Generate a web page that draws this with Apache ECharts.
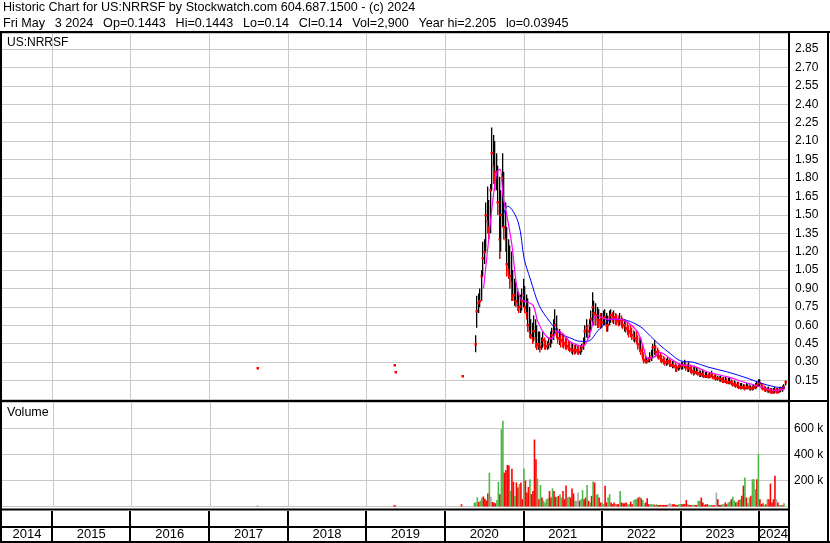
<!DOCTYPE html>
<html><head><meta charset="utf-8">
<script src="https://cdn.jsdelivr.net/npm/echarts@6/dist/echarts.min.js"></script>
<style>html,body{margin:0;padding:0;background:#fff}#c{width:830px;height:543px}</style>
</head><body><div id="c"></div>
<script>
// ---------------- DATA ----------------
const headerLine1 = 'Historic Chart for US:NRRSF by Stockwatch.com 604.687.1500 - (c) 2024';
const headerLine2 = 'Fri May  3 2024  Op=0.1443  Hi=0.1443  Lo=0.14  Cl=0.14  Vol=2,900  Year hi=2.205  lo=0.03945';
const symbolLabel = 'US:NRRSF';
const volumeLabel = 'Volume';
const years = [2014,2015,2016,2017,2018,2019,2020,2021,2022,2023,2024];
const axisStart = '2014-05-14';
const axisEnd = '2024-05-14';
const priceTicks = {min: 0, max: 2.98, step: 0.15};
const volTicks = {min: 0, max: 800000, step: 200000};

// isolated early trades
const earlyDates = ['2017-08-12','2019-05-10','2019-05-16','2020-03-19'];
const earlyClose = [0.25, 0.28, 0.22, 0.19];
const earlyVol = [8, 10, 9, 18]; // thousands
const earlyDir = 'uddd';

// weekly bars starting at this Monday
const firstWeek = '2020-05-18';
const highs = [
 .52,.84,.86,.9,1.05,1.28,1.3,1.6,1.73,1.62,
 1.75,2.21,2.15,2.1,2.0,1.9,1.81,1.7,2.0,1.85,
 1.6,1.4,1.3,1.25,1.2,1.05,.98,.95,.9,.87,
 .85,.9,.98,.92,.85,.82,.75,.65,.62,.68,
 .65,.6,.55,.55,.5,.55,.5,.48,.47,.5,
 .55,.58,.65,.73,.68,.58,.57,.55,.53,.52,
 .5,.5,.48,.47,.46,.45,.44,.45,.44,.43,
 .44,.45,.5,.6,.65,.6,.65,.72,.87,.8,
 .78,.75,.73,.7,.7,.72,.73,.7,.68,.72,
 .73,.71,.72,.7,.69,.68,.7,.68,.66,.65,
 .64,.62,.6,.6,.58,.56,.55,.56,.52,.5,
 .5,.45,.38,.35,.34,.34,.38,.4,.45,.48,
 .44,.42,.4,.38,.36,.35,.34,.33,.34,.33,
 .32,.31,.31,.3,.28,.28,.29,.3,.3,.32,
 .3,.29,.3,.28,.27,.26,.27,.26,.25,.24,
 .23,.24,.23,.22,.22,.21,.22,.23,.21,.2,
 .2,.19,.19,.19,.18,.18,.18,.17,.17,.17,
 .16,.15,.15,.14,.14,.14,.13,.13,.12,.12,
 .13,.12,.12,.11,.11,.12,.13,.14,.16,.16,
 .13,.12,.11,.1,.1,.1,.09,.09,.09,.1,
 .09,.09,.1,.1,.11,.12,.15
];
const lows = [
 .38,.58,.7,.75,.8,1.0,1.1,1.2,1.35,1.3,
 1.35,1.7,1.75,1.7,1.7,1.5,1.14,1.2,1.4,1.3,
 1.2,1.0,.98,.9,.8,.8,.76,.75,.72,.7,
 .7,.72,.75,.7,.65,.55,.5,.49,.45,.47,
 .42,.4,.4,.38,.4,.42,.4,.4,.4,.41,
 .42,.45,.48,.52,.5,.45,.44,.42,.42,.41,
 .4,.4,.39,.38,.37,.36,.36,.37,.36,.36,
 .36,.38,.4,.45,.5,.48,.5,.55,.6,.6,
 .6,.58,.58,.57,.58,.6,.6,.55,.55,.6,
 .62,.62,.61,.6,.6,.59,.6,.58,.57,.55,
 .54,.52,.5,.5,.48,.47,.46,.45,.4,.38,
 .36,.32,.29,.29,.29,.3,.3,.31,.33,.36,
 .34,.33,.32,.3,.29,.28,.27,.27,.28,.26,
 .26,.25,.25,.22,.22,.23,.24,.24,.24,.25,
 .23,.22,.22,.21,.2,.19,.2,.2,.19,.18,
 .18,.18,.17,.17,.17,.17,.17,.18,.16,.16,
 .15,.15,.14,.14,.13,.13,.13,.12,.12,.12,
 .11,.1,.1,.09,.09,.08,.08,.08,.08,.07,
 .08,.08,.07,.07,.07,.08,.08,.09,.1,.1,
 .08,.07,.06,.06,.05,.05,.05,.045,.045,.05,
 .05,.05,.05,.06,.06,.08,.11
];
const closes = [
 .45,.72,.78,.8,1.0,1.15,1.2,1.5,1.45,1.4,
 1.7,2.0,1.9,1.85,1.85,1.6,1.3,1.5,1.8,1.4,
 1.3,1.1,1.05,1.0,.95,.85,.85,.8,.78,.75,
 .76,.8,.85,.75,.7,.6,.55,.52,.5,.55,
 .5,.45,.45,.42,.45,.48,.44,.43,.43,.45,
 .5,.52,.55,.6,.55,.5,.5,.48,.47,.46,
 .44,.43,.42,.41,.4,.4,.39,.4,.39,.38,
 .4,.42,.45,.55,.58,.55,.6,.65,.75,.7,
 .68,.65,.64,.62,.63,.66,.67,.6,.6,.67,
 .68,.66,.67,.65,.64,.63,.64,.62,.6,.6,
 .58,.56,.55,.54,.52,.5,.5,.48,.45,.42,
 .4,.35,.32,.31,.31,.32,.33,.35,.42,.42,
 .38,.36,.35,.33,.32,.31,.3,.3,.31,.29,
 .28,.28,.27,.26,.25,.26,.27,.27,.28,.28,
 .26,.25,.25,.24,.23,.22,.22,.22,.21,.2,
 .2,.2,.19,.19,.19,.18,.19,.2,.18,.17,
 .17,.17,.16,.16,.15,.15,.15,.14,.14,.14,
 .13,.12,.12,.11,.11,.1,.1,.1,.1,.09,
 .1,.1,.09,.09,.09,.1,.1,.11,.13,.13,
 .1,.09,.08,.08,.07,.07,.06,.06,.06,.07,
 .06,.06,.07,.08,.09,.1,.14
];
// weekly volume, thousands of shares
const vols = [
 30,30,70,35,45,70,77,60,45,100,
 260,75,35,30,25,50,190,95,595,659,
 260,280,320,315,120,290,190,82,185,146,
 172,185,56,292,200,108,150,210,95,120,
 515,364,215,56,166,69,44,31,56,64,
 120,69,140,120,75,75,82,95,69,120,
 56,161,69,75,69,138,100,44,44,108,
 44,56,126,56,69,166,44,31,82,192,
 185,90,95,69,31,31,18,159,31,69,
 95,31,18,31,18,18,18,120,31,25,
 25,31,18,18,38,18,50,56,56,69,
 75,64,50,25,31,64,18,18,18,18,
 12,18,12,12,12,12,12,12,12,18,
 25,18,18,18,12,12,18,18,18,18,
 18,50,18,12,12,12,12,12,12,44,
 44,69,31,12,18,18,12,12,10,10,
 10,107,56,12,12,18,18,31,18,31,
 38,56,75,44,31,38,50,56,82,161,
 223,69,25,69,82,210,210,133,210,403,
 56,18,25,12,18,56,56,176,31,56,
 236,56,31,12,12,10,25
];
// u = up (green), d = down (red), n = unchanged (grey)
const volDir =
 'uuuduudddd' + 'unddduuduu' + 'dddduddudd' + 'uddudddudd' + 'ddududuuuu' +
 'ddudduduud' + 'dduudddunn' + 'duuddududu' + 'duudduuddu' + 'uddduddudd' +
 'dduuddnuud' + 'udunddduuu' + 'dudddddddn' + 'nndddduudd' + 'ddudduuddu' +
 'uddddduudd' + 'dnddduuddu' + 'uduudududd' + 'uduuduuudu' + 'dddududddd' +
 'dnduudu';

// moving averages (sampled at week indices)
const maShortWeeks = [6,9,12,15,17,19,22,25,28,31,35,39,42,47,51,55,59,63,72,77,81,88,95,101,108,112,115,119,123,130,137,145,155,168,181,190,199,206];
const maShort = [0.9,1.25,1.6,1.85,1.87,1.65,1.46,1.24,0.92,0.81,0.79,0.76,0.63,0.52,0.49,0.55,0.53,0.47,0.43,0.55,0.68,0.65,0.65,0.63,0.55,0.43,0.33,0.34,0.38,0.33,0.28,0.27,0.22,0.18,0.13,0.10,0.07,0.08];
const maLongWeeks = [19,22,29,33,37,43,50,57,63,70,75,83,92,101,110,117,123,130,137,145,155,168,181,190,199,206];
const maLong = [1.49,1.57,1.44,1.14,0.98,0.76,0.63,0.53,0.5,0.47,0.47,0.57,0.65,0.64,0.59,0.51,0.44,0.37,0.31,0.30,0.26,0.22,0.17,0.13,0.10,0.09];

// ---------------- BUILD ----------------
const FONT = 'Arial, "Liberation Sans", sans-serif';
const DAY = 86400000;
const utc = s => Date.parse(s + 'T00:00:00Z');
const t0 = utc(firstWeek);
const weekTime = i => t0 + i * 7 * DAY;
const xMin = utc(axisStart), xMax = utc(axisEnd);
const dirColor = {u: '#4cb848', d: '#ff0000', n: '#a8a8a8'};

// [time, high, low, close, down(1/0)]
const priceData = highs.map((h, i) => [weekTime(i), h, lows[i], closes[i], (i > 0 && closes[i] < closes[i - 1]) ? 1 : 0]);
earlyDates.forEach((d, i) => priceData.push([utc(d), earlyClose[i], earlyClose[i], earlyClose[i], 1]));

const volData = vols.map((v, i) => ({value: [weekTime(i), v * 1000], itemStyle: {color: dirColor[volDir[i]]}}));
earlyDates.forEach((d, i) => volData.push({value: [utc(d), earlyVol[i] * 1000], itemStyle: {color: dirColor[earlyDir[i]]}}));

const shortData = maShortWeeks.map((w, i) => [weekTime(w), maShort[i]]);
const longData = maLongWeeks.map((w, i) => [weekTime(w), maLong[i]]);

const yearStarts = years.slice(1).map(y => [Date.UTC(y, 0, 1), 0]);
const yearMids = years.map(y => {
  const a = Math.max(Date.UTC(y, 0, 1), xMin), b = Math.min(Date.UTC(y + 1, 0, 1), xMax);
  return [(a + b) / 2, 0.22, y];
});

function vline(color, width) {
  return function (params, api) {
    const cs = params.coordSys;
    let x = api.coord([api.value(0), 0])[0];
    x = width % 2 ? Math.round(x) + 0.5 : Math.round(x);
    return {type: 'line', silent: true,
      shape: {x1: x, y1: cs.y, x2: x, y2: cs.y + cs.height},
      style: {stroke: color, lineWidth: width}};
  };
}

// header second line: the source renders its double gaps wider
const wide = s => s.replace(/  /g, ' \u2002');

const chart = echarts.init(document.getElementById('c'), null, {renderer: 'canvas'});
const blk = '#000';
const rect = (x, y, w, h) => ({type: 'rect', z: 100, silent: true, shape: {x, y, width: w, height: h}, style: {fill: blk}});
const txt = (x, y, s, size) => ({type: 'text', z: 101, silent: true, x, y,
  style: {text: s, font: size + 'px ' + FONT, fill: '#000', verticalAlign: 'middle', align: 'left'}});

chart.setOption({
  animation: false,
  backgroundColor: '#fff',
  grid: [
    {left: 2, top: 33, width: 786, height: 366},
    {left: 2, top: 402.5, width: 786, height: 104},
    {left: 2, top: 511, width: 786, height: 30}
  ],
  xAxis: [0, 1, 2].map(g => ({type: 'time', gridIndex: g, min: xMin, max: xMax, show: false})),
  yAxis: [
    {type: 'value', gridIndex: 0, position: 'right', min: priceTicks.min, max: priceTicks.max, interval: priceTicks.step,
     axisLine: {show: false}, axisTick: {show: false},
     axisLabel: {showMinLabel: false, showMaxLabel: false, margin: 7, color: '#000', fontSize: 12, fontFamily: FONT,
       formatter: v => v.toFixed(2)},
     splitLine: {show: true, lineStyle: {color: '#c8c8c8', width: 1}}},
    {type: 'value', gridIndex: 1, position: 'right', min: volTicks.min, max: volTicks.max, interval: volTicks.step,
     axisLine: {show: false}, axisTick: {show: false},
     axisLabel: {showMinLabel: false, showMaxLabel: false, margin: 6, color: '#000', fontSize: 12, fontFamily: FONT,
       formatter: v => (v / 1000) + ' k'},
     splitLine: {show: true, lineStyle: {color: '#c8c8c8', width: 1}}},
    {type: 'value', gridIndex: 2, min: 0, max: 1, show: false}
  ],
  series: [
    {type: 'custom', xAxisIndex: 0, yAxisIndex: 0, z: 1, silent: true, data: yearStarts, renderItem: vline('#c8c8c8', 1)},
    {type: 'custom', xAxisIndex: 1, yAxisIndex: 1, z: 1, silent: true, data: yearStarts, renderItem: vline('#c8c8c8', 1)},
    {type: 'custom', xAxisIndex: 2, yAxisIndex: 2, z: 1, silent: true, data: yearStarts, renderItem: vline('#000', 2)},
    {type: 'custom', name: 'price', xAxisIndex: 0, yAxisIndex: 0, z: 2, silent: true, data: priceData,
     renderItem: function (params, api) {
       const t = api.value(0);
       const hi = api.coord([t, api.value(1)]);
       const lo = api.coord([t, api.value(2)]);
       const cl = api.coord([t, api.value(3)]);
       const down = api.value(4) === 1;
       const x = Math.round(hi[0]);
       const h = lo[1] - hi[1];
       const kids = [];
       if (h > 0.5) {
         const fullRed = down && h < 16;
         kids.push({type: 'rect', shape: {x: x, y: hi[1], width: 1.3, height: h}, style: {fill: fullRed ? '#ff0000' : '#000'}});
         if (down && !fullRed) {
           kids.push({type: 'rect', shape: {x: x, y: cl[1], width: 1.3, height: Math.max(1, lo[1] - cl[1])}, style: {fill: '#ff0000'}});
         }
       }
       kids.push({type: 'rect', shape: {x: x - 0.5, y: Math.round(cl[1]) - 1, width: 2.5, height: 2.5}, style: {fill: '#ff0000'}});
       return {type: 'group', children: kids};
     }},
    {type: 'line', name: 'MA long', xAxisIndex: 0, yAxisIndex: 0, z: 3, data: longData, showSymbol: false, smooth: 0.35,
     lineStyle: {color: '#0000ff', width: 1}, silent: true},
    {type: 'line', name: 'MA short', xAxisIndex: 0, yAxisIndex: 0, z: 4, data: shortData, showSymbol: false, smooth: 0.35,
     lineStyle: {color: '#ff00ff', width: 1.2}, silent: true},
    {type: 'bar', name: 'Volume', xAxisIndex: 1, yAxisIndex: 1, z: 2, data: volData, barWidth: 1.6, silent: true},
    {type: 'custom', xAxisIndex: 2, yAxisIndex: 2, z: 3, silent: true, data: yearMids,
     renderItem: function (params, api) {
       const p = api.coord([api.value(0), api.value(1)]);
       return {type: 'text', x: p[0], y: p[1],
         style: {text: String(api.value(2)), font: '13px ' + FONT, fill: '#000', align: 'center', verticalAlign: 'middle'}};
     }}
  ],
  graphic: [
    txt(3, 8, headerLine1, 12.6),
    txt(3, 24, wide(headerLine2), 12.6),
    txt(7, 43, symbolLabel, 12),
    txt(7, 413, volumeLabel, 12.5),
    rect(0, 31, 830, 2),     // top frame
    rect(0, 31, 2, 512),     // left frame
    rect(788, 31, 2, 512),   // plot right border
    rect(827, 31, 2, 512),   // outer right border
    rect(0, 400, 829, 2),    // price / volume separator
    rect(0, 508.5, 790, 2),  // volume baseline
    rect(0, 526, 790, 2),    // year row line
    rect(0, 541, 830, 2)     // bottom frame
  ]
});
</script>
</body></html>
